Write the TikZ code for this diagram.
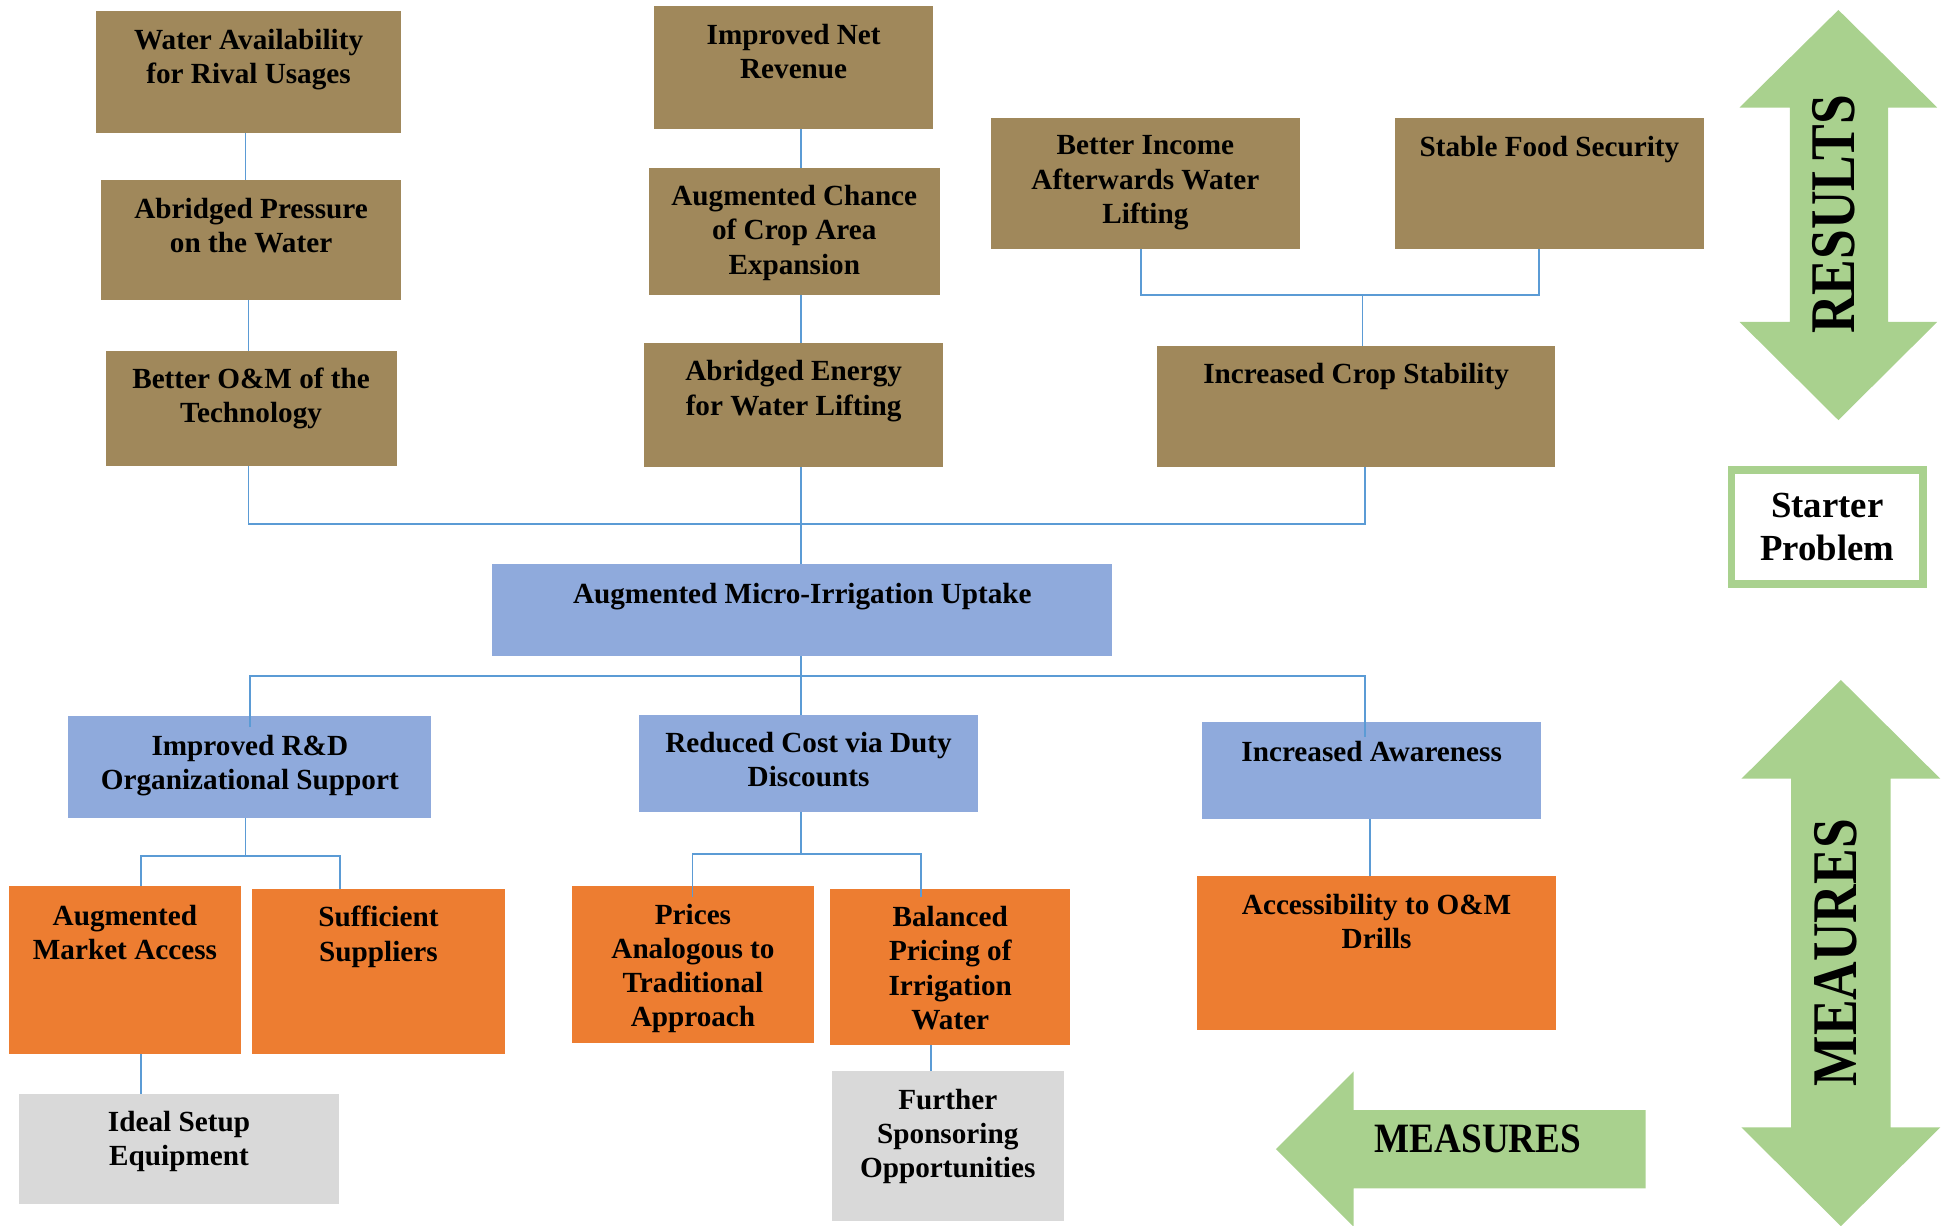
\documentclass[tikz,border=0pt]{standalone}
\usepackage{fontspec}
\usepackage{graphicx}
\setmainfont{Liberation Serif}
\usetikzlibrary{calc}

\definecolor{brownc}{RGB}{160,136,91}
\definecolor{bluec}{RGB}{143,170,220}
\definecolor{orangec}{RGB}{237,125,49}
\definecolor{grayc}{RGB}{217,217,217}
\definecolor{greenc}{RGB}{169,209,142}
\definecolor{linec}{RGB}{91,155,213}

\newcommand\boxfont{\fontsize{23.5}{27.5}\selectfont\bfseries}

\tikzset{
  box/.style 2 args={rectangle, minimum width=#1pt, minimum height=#2pt,
    inner sep=0pt, outer sep=0pt, draw=none},
  brownbox/.style={fill=brownc},
  bluebox/.style={fill=bluec},
  orangebox/.style={fill=orangec},
  graybox/.style={fill=grayc},
  lbl/.style={anchor=north, yshift=-14pt, align=center, inner sep=0pt,
    font=\boxfont, text=black},
  conn/.style={draw=linec, line width=1.2pt},
  bigarrow/.style={fill=greenc, draw=none},
  arrowtext/.style={inner sep=0pt, font=\bfseries, text=black}
}

\begin{document}
\begin{tikzpicture}[x=1pt, y=-1pt]
\useasboundingbox (0,0) rectangle (1568,986);

% ---------- results (top half) ----------
\node[brownbox, box={246}{98},  label={[lbl]north:{Water Availability\\for Rival Usages}}] (wa)  at (200,58) {};
\node[brownbox, box={242}{96},  label={[lbl]north:{Abridged Pressure\\on the Water}}]     (ap)  at (202,193) {};
\node[brownbox, box={234}{93},  label={[lbl]north:{Better O\&M of the\\Technology}}]      (bom) at (202,328.5) {};
\node[brownbox, box={225}{99},  label={[lbl]north:{Improved Net\\Revenue}}]               (inr) at (638.5,54.5) {};
\node[brownbox, box={234}{102}, label={[lbl]north:{Augmented Chance\\of Crop Area\\Expansion}}] (ac) at (639,186) {};
\node[brownbox, box={241}{100}, label={[lbl]north:{Abridged Energy\\for Water Lifting}}]  (ae)  at (638.5,326) {};
\node[brownbox, box={249}{105}, label={[lbl]north:{Better Income\\Afterwards Water\\Lifting}}] (bi) at (921.5,147.5) {};
\node[brownbox, box={249}{105}, label={[lbl]north:{Stable Food Security}}]                (sfs) at (1246.5,147.5) {};
\node[brownbox, box={320}{98},  label={[lbl]north:{Increased Crop Stability}}]            (ics) at (1091,327) {};

% ---------- central outcome ----------
\node[bluebox, box={499}{74}, label={[lbl,yshift=-1pt]north:{Augmented Micro-Irrigation Uptake}}] (ami) at (645.5,491) {};

% ---------- measures (bottom half) ----------
\node[bluebox, box={292}{82}, label={[lbl,yshift=-1pt]north:{Improved R\&D\\Organizational Support}}] (ird) at (201,617) {};
\node[bluebox, box={273}{78}, label={[lbl]north:{Reduced Cost via Duty\\Discounts}}]      (rc)  at (650.5,614) {};
\node[bluebox, box={273}{78}, label={[lbl,yshift=-1pt]north:{Increased Awareness}}]       (ia)  at (1103.5,620) {};

\node[orangebox, box={187}{135}, label={[lbl,yshift=-1pt]north:{Augmented\\Market Access}}] (ama) at (100.5,780.5) {};
\node[orangebox, box={203}{133}, label={[lbl]north:{Sufficient\\Suppliers}}]               (ss)  at (304.5,781.5) {};
\node[orangebox, box={195}{126}, label={[lbl]north:{Prices\\Analogous to\\Traditional\\Approach}}] (pa) at (557.5,776) {};
\node[orangebox, box={193}{126}, label={[lbl]north:{Balanced\\Pricing of\\Irrigation\\Water}}] (bp) at (764.5,778) {};
\node[orangebox, box={289}{124}, label={[lbl]north:{Accessibility to O\&M\\Drills}}]     (acc) at (1107.5,767) {};

\node[graybox, box={258}{89},  label={[lbl]north:{Ideal Setup\\Equipment}}]              (ise) at (144,924.5) {};
\node[graybox, box={187}{120}, label={[lbl]north:{Further\\Sponsoring\\Opportunities}}]  (fso) at (762.5,922) {};

% ---------- connectors ----------
\coordinate (jbs)  at (1096,237.5);
\coordinate (jtop) at (644.5,421.5);
\coordinate (jbot) at (644.5,544);
\coordinate (jird) at (197.5,688.5);
\coordinate (jrc)  at (644.5,687);

\draw[conn] ([xshift=-2.5pt]wa.south) -- ([xshift=-2.5pt]wa.south |- ap.north);
\draw[conn] ([xshift=-2pt]ap.south) -- ([xshift=-2pt]ap.south |- bom.north);
\draw[conn] (inr.south -| jtop) -- (ac.north -| jtop);
\draw[conn] (ac.south -| jtop) -- (ae.north -| jtop);

\draw[conn] ([xshift=-3.5pt]bi.south) |- (jbs) -| ([xshift=-8.5pt]sfs.south);
\draw[conn] (jbs) -- (jbs |- ics.north);

\draw[conn] ([xshift=-2pt]bom.south) |- (jtop) -| ([xshift=7pt]ics.south);
\draw[conn] (ae.south -| jtop) -- (ami.north -| jtop);

\draw[conn] (ami.south -| jbot) -- (rc.north -| jbot);
\draw[conn] ([yshift=-9pt]ird.north) |- (jbot) -| ([xshift=-5.5pt,yshift=-12pt]ia.north);

\draw[conn] ([xshift=-3.5pt]ird.south) -- (jird);
\draw[conn] ([xshift=13pt]ama.north) |- (jird) -| ([xshift=-31pt]ss.north);

\draw[conn] (rc.south -| jrc) -- (jrc);
\draw[conn] ([xshift=-0.5pt,yshift=-9pt]pa.north) |- (jrc) -| ([xshift=-23.5pt,yshift=-7pt]bp.north);

\draw[conn] ([xshift=-1.5pt]ia.south) -- ([xshift=-1.5pt]ia.south |- acc.north);
\draw[conn] ([xshift=13pt]ama.south) -- ([xshift=13pt]ama.south |- ise.north);
\draw[conn] ([xshift=-15.5pt]bp.south) -- ([xshift=-15.5pt]bp.south |- fso.north);

% ---------- side arrows ----------
\fill[bigarrow] (1479,8) -- (1558.5,86.5) -- (1519,86.5) -- (1519,259) -- (1558.5,259)
  -- (1479,338) -- (1399.5,259) -- (1440,259) -- (1440,86.5) -- (1399.5,86.5) -- cycle;
\node[arrowtext, rotate=90, font=\fontsize{43}{43}\selectfont\bfseries] (results) at (1475,172.5)
  {\scalebox{1}[1.19]{RESULTS}};

\node[draw=greenc, line width=6pt, minimum width=154pt, minimum height=92pt, inner sep=0pt,
  align=center, font=\fontsize{29.6}{35}\selectfont\bfseries] (sp) at (1470,424) {Starter\\Problem};

\fill[bigarrow] (1481,547) -- (1561,626.5) -- (1521,626.5) -- (1521,907) -- (1561,907)
  -- (1481,986.5) -- (1401,907) -- (1441,907) -- (1441,626.5) -- (1401,626.5) -- cycle;
\node[arrowtext, rotate=90, font=\fontsize{43}{43}\selectfont\bfseries] (meaures) at (1477,766.5)
  {\scalebox{1}[1.19]{MEAURES}};

\fill[bigarrow] (1026.5,924.5) -- (1089,862) -- (1089,893) -- (1324,893) -- (1324,956)
  -- (1089,956) -- (1089,987) -- cycle;
\node[arrowtext, font=\fontsize{33.6}{33.6}\selectfont\bfseries] (measures) at (1189,916)
  {\scalebox{0.89}[1]{MEASURES}};

\end{tikzpicture}
\end{document}
